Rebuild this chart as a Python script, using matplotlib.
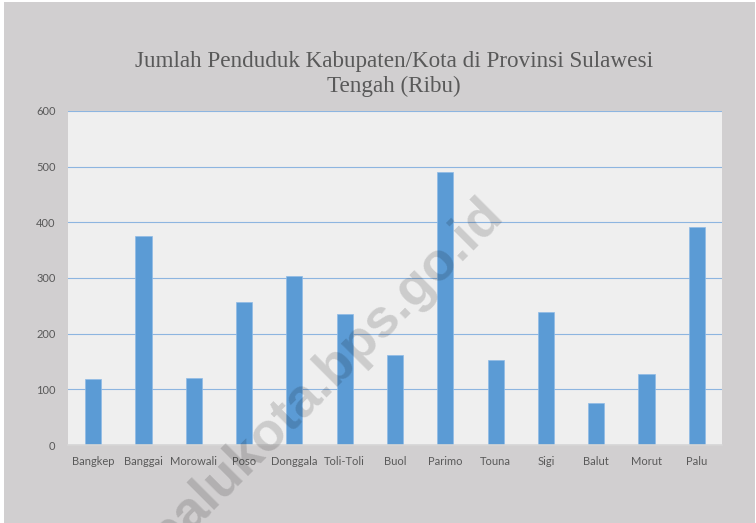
import matplotlib.pyplot as plt
from matplotlib.patches import Rectangle

# Data (ribu jiwa)
wilayah = ["Bangkep", "Banggai", "Morowali", "Poso", "Donggala", "Toli-Toli", "Buol",
           "Parimo", "Touna", "Sigi", "Balut", "Morut", "Palu"]
penduduk = [118, 376, 121, 257, 304, 236, 162, 490, 153, 239, 75, 128, 391]
yticks = [0, 100, 200, 300, 400, 500, 600]

fig = plt.figure(figsize=(7.56, 5.23), dpi=100)
fig.patch.set_facecolor("white")
# grey chart area with a thin white edge like the original export
fig.patches.append(Rectangle((4 / 756, 0), 751 / 756, 521 / 523, transform=fig.transFigure,
                             facecolor="#d1cfd0", edgecolor="none", zorder=-1))

ax = fig.add_axes([68 / 756, 1 - 445 / 523, 654 / 756, 334 / 523])
ax.set_zorder(2)
ax.set_facecolor("#efefef")

x = range(len(wilayah))
ax.bar(x, penduduk, width=0.32, color="#5b9bd5", edgecolor="#8fbbe6", linewidth=0.5, zorder=3)

ax.set_xlim(-0.5, len(wilayah) - 0.5)
ax.set_ylim(0, 600)
ax.set_yticks(yticks)
ax.set_xticks(list(x))
ax.set_xticklabels(wilayah)
ax.yaxis.grid(True, color="#8db5e0", linewidth=0.8, zorder=1)
ax.set_axisbelow(True)

for side in ["top", "right", "left"]:
    ax.spines[side].set_visible(False)
ax.spines["bottom"].set_color("#d6d6d6")
ax.spines["bottom"].set_linewidth(1.2)
ax.spines["bottom"].set_zorder(4)

ax.tick_params(axis="both", length=0, colors="#595959", labelsize=8)
ax.tick_params(axis="y", pad=9)
ax.tick_params(axis="x", pad=8)
for lab in ax.get_xticklabels() + ax.get_yticklabels():
    lab.set_family(["Lato", "DejaVu Sans"])

fig.text(394 / 756, 1 - 74 / 523, "Jumlah Penduduk Kabupaten/Kota di Provinsi Sulawesi\nTengah (Ribu)",
         ha="center", va="center", fontsize=16.7, color="#595959",
         family=["Liberation Serif", "DejaVu Serif"], linespacing=1.25)

# watermark (partly cut off at the bottom, as in the source)
fig.text(326 / 756, 1 - 375 / 523, "palukota.bps.go.id", rotation=45, rotation_mode="anchor",
         ha="center", va="center", fontsize=39, fontweight="bold", color="black", alpha=0.15,
         family=["Liberation Sans", "DejaVu Sans"], zorder=10)

fig.savefig("out.png", dpi=100, facecolor=fig.get_facecolor())
